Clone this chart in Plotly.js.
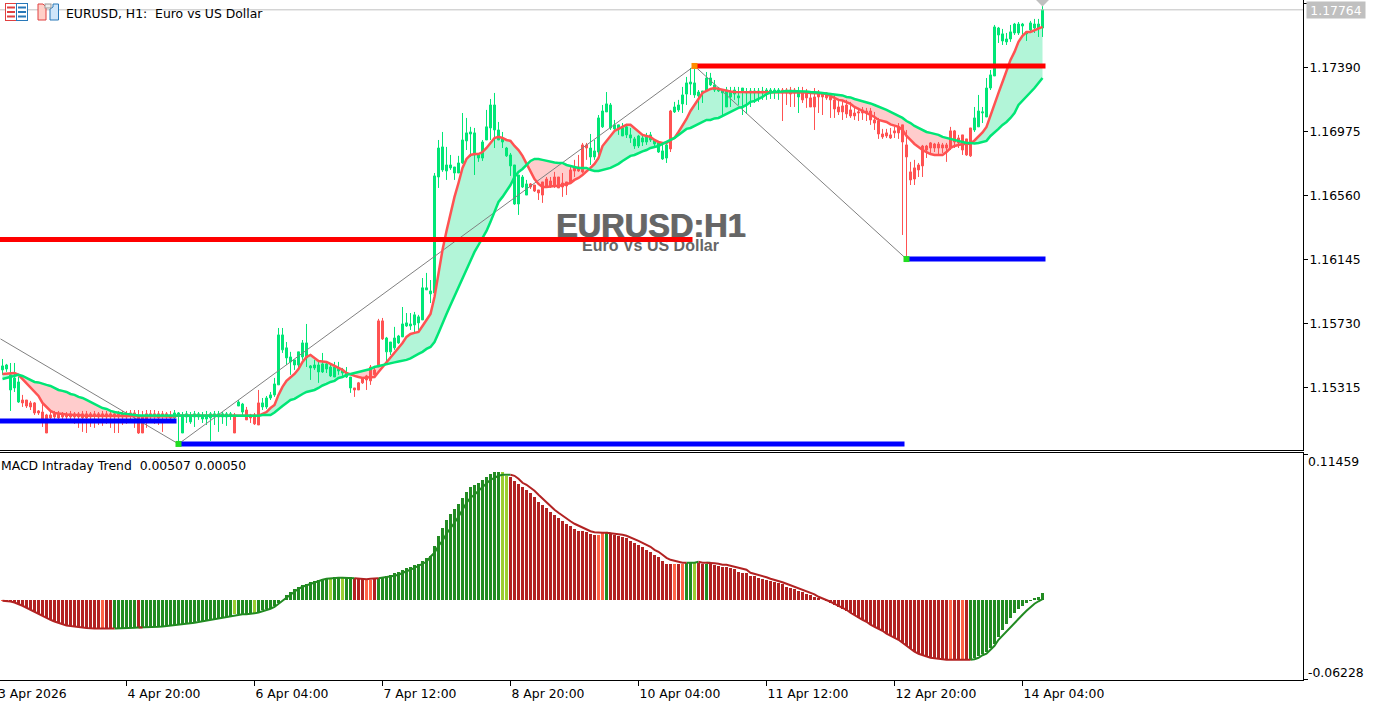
<!DOCTYPE html>
<html>
<head>
<meta charset="utf-8">
<script src="https://cdn.plot.ly/plotly-3.0.1.min.js"></script>
<style>html,body{margin:0;padding:0;background:#fff}#chart{width:1378px;height:705px}</style>
</head>
<body>
<div id="chart"></div>
<script>
const priceHigh = [
1.15500,1.15468,1.15474,1.15474,1.15383,1.15267,1.15234,1.15228,1.15221,1.15169,
1.15221,1.15144,1.15156,1.15163,1.15163,1.15156,1.15156,1.15163,1.15156,1.15156,
1.15163,1.15163,1.15156,1.15163,1.15156,1.15163,1.15163,1.15169,1.15163,1.15163,
1.15163,1.15163,1.15169,1.15169,1.15169,1.15163,1.15169,1.15169,1.15169,1.15163,
1.15163,1.15156,1.15163,1.15169,1.15156,1.15156,1.15163,1.15156,1.15163,1.15156,
1.15156,1.15163,1.15156,1.15163,1.15163,1.15156,1.15156,1.15156,1.15150,1.15234,
1.15215,1.15189,1.15144,1.15150,1.15299,1.15247,1.15260,1.15286,1.15377,1.15701,
1.15701,1.15610,1.15546,1.15494,1.15546,1.15623,1.15727,1.15461,1.15494,1.15487,
1.15539,1.15481,1.15468,1.15481,1.15481,1.15442,1.15448,1.15383,1.15312,1.15351,
1.15383,1.15397,1.15461,1.15455,1.15760,1.15766,1.15643,1.15610,1.15708,1.15656,
1.15837,1.15798,1.15798,1.15805,1.15786,1.16025,1.16058,1.16012,1.16706,1.16920,
1.16972,1.16875,1.16823,1.16745,1.16817,1.17095,1.17063,1.17005,1.16998,1.16823,
1.16920,1.17115,1.17186,1.17225,1.17037,1.16972,1.16875,1.16836,1.16758,1.16693,
1.16693,1.16661,1.16641,1.16628,1.16596,1.16648,1.16680,1.16680,1.16713,1.16680,
1.16706,1.16648,1.16745,1.16791,1.16823,1.16901,1.16901,1.16959,1.16920,1.17082,
1.17147,1.17231,1.17160,1.17050,1.17018,1.17030,1.17024,1.16998,1.16940,1.16953,
1.16953,1.16966,1.16972,1.16927,1.16907,1.16888,1.16901,1.17115,1.17167,1.17180,
1.17264,1.17329,1.17387,1.17394,1.17244,1.17238,1.17361,1.17355,1.17309,1.17264,
1.17244,1.17264,1.17264,1.17264,1.17264,1.17257,1.17257,1.17257,1.17257,1.17257,
1.17264,1.17257,1.17257,1.17257,1.17257,1.17257,1.17257,1.17264,1.17257,1.17264,
1.17264,1.17251,1.17231,1.17257,1.17244,1.17231,1.17231,1.17225,1.17212,1.17180,
1.17180,1.17180,1.17167,1.17128,1.17128,1.17134,1.17128,1.17128,1.17102,1.17063,
1.16992,1.16992,1.16998,1.17005,1.17030,1.17018,1.16985,1.16778,1.16791,1.16771,
1.16888,1.16888,1.16907,1.16901,1.16907,1.16901,1.16901,1.17005,1.16985,1.16953,
1.16953,1.16927,1.16998,1.17134,1.17212,1.17134,1.17322,1.17374,1.17666,1.17653,
1.17640,1.17614,1.17666,1.17679,1.17685,1.17679,1.17621,1.17692,1.17705,1.17705,
1.17809];
const bodyTop = [
1.15455,1.15461,1.15397,1.15377,1.15351,1.15234,1.15234,1.15215,1.15215,1.15163,
1.15156,1.15137,1.15137,1.15144,1.15144,1.15144,1.15137,1.15144,1.15144,1.15144,
1.15144,1.15144,1.15144,1.15144,1.15144,1.15144,1.15144,1.15144,1.15144,1.15144,
1.15144,1.15144,1.15150,1.15150,1.15137,1.15131,1.15144,1.15144,1.15144,1.15144,
1.15144,1.15144,1.15137,1.15150,1.15150,1.15137,1.15144,1.15131,1.15144,1.15144,
1.15131,1.15137,1.15144,1.15144,1.15144,1.15144,1.15144,1.15144,1.15137,1.15221,
1.15208,1.15169,1.15137,1.15137,1.15215,1.15215,1.15247,1.15267,1.15338,1.15656,
1.15656,1.15572,1.15513,1.15494,1.15546,1.15604,1.15604,1.15455,1.15461,1.15461,
1.15468,1.15468,1.15448,1.15448,1.15442,1.15429,1.15409,1.15383,1.15312,1.15345,
1.15377,1.15390,1.15448,1.15429,1.15747,1.15747,1.15636,1.15610,1.15636,1.15649,
1.15727,1.15734,1.15727,1.15786,1.15773,1.15961,1.15961,1.15941,1.16687,1.16868,
1.16875,1.16758,1.16758,1.16745,1.16771,1.16920,1.16966,1.16972,1.16966,1.16823,
1.16907,1.17005,1.17147,1.17147,1.16985,1.16933,1.16868,1.16823,1.16758,1.16693,
1.16680,1.16635,1.16635,1.16628,1.16596,1.16648,1.16667,1.16654,1.16680,1.16680,
1.16641,1.16648,1.16726,1.16745,1.16745,1.16888,1.16888,1.16868,1.16849,1.17063,
1.17108,1.17154,1.17147,1.17018,1.17018,1.16998,1.17005,1.16953,1.16927,1.16946,
1.16933,1.16940,1.16953,1.16920,1.16901,1.16849,1.16888,1.17108,1.17134,1.17147,
1.17212,1.17290,1.17296,1.17290,1.17231,1.17238,1.17322,1.17322,1.17277,1.17257,
1.17238,1.17244,1.17231,1.17244,1.17206,1.17257,1.17231,1.17238,1.17238,1.17238,
1.17238,1.17244,1.17244,1.17244,1.17244,1.17244,1.17244,1.17244,1.17244,1.17225,
1.17231,1.17225,1.17193,1.17199,1.17231,1.17225,1.17225,1.17199,1.17180,1.17134,
1.17141,1.17147,1.17115,1.17095,1.17102,1.17115,1.17108,1.17108,1.17050,1.17043,
1.16959,1.16966,1.16953,1.16979,1.17005,1.17018,1.16888,1.16713,1.16739,1.16758,
1.16881,1.16881,1.16901,1.16894,1.16894,1.16888,1.16888,1.16979,1.16979,1.16933,
1.16953,1.16927,1.16998,1.17063,1.17108,1.17102,1.17257,1.17342,1.17653,1.17646,
1.17608,1.17575,1.17621,1.17672,1.17672,1.17672,1.17621,1.17679,1.17672,1.17672,
1.17764];
const bodyBottom = [
1.15429,1.15435,1.15299,1.15312,1.15221,1.15215,1.15195,1.15189,1.15150,1.15150,
1.15111,1.15020,1.15118,1.15124,1.15118,1.15124,1.15124,1.15124,1.15124,1.15124,
1.15118,1.15118,1.15124,1.15131,1.15124,1.15124,1.15124,1.15124,1.15124,1.15124,
1.15124,1.15124,1.15131,1.15124,1.15020,1.15020,1.15105,1.15124,1.15124,1.15118,
1.15131,1.15124,1.15118,1.15118,1.15131,1.15020,1.15124,1.15092,1.15124,1.15124,
1.15111,1.15111,1.15118,1.15124,1.15124,1.15124,1.15124,1.15131,1.15020,1.15195,
1.15156,1.15105,1.15118,1.15079,1.15072,1.15189,1.15189,1.15247,1.15267,1.15332,
1.15559,1.15507,1.15481,1.15461,1.15461,1.15513,1.15507,1.15442,1.15442,1.15416,
1.15416,1.15435,1.15390,1.15383,1.15422,1.15409,1.15383,1.15312,1.15299,1.15299,
1.15345,1.15364,1.15358,1.15397,1.15448,1.15630,1.15546,1.15546,1.15572,1.15604,
1.15643,1.15714,1.15714,1.15721,1.15734,1.15753,1.15948,1.15922,1.15928,1.16680,
1.16726,1.16719,1.16739,1.16706,1.16706,1.16771,1.16914,1.16959,1.16823,1.16803,
1.16803,1.16920,1.16998,1.16985,1.16920,1.16907,1.16817,1.16752,1.16505,1.16505,
1.16615,1.16563,1.16615,1.16589,1.16577,1.16563,1.16615,1.16622,1.16628,1.16609,
1.16615,1.16622,1.16648,1.16719,1.16719,1.16713,1.16868,1.16810,1.16810,1.16842,
1.17005,1.17102,1.16998,1.16992,1.16992,1.16946,1.16953,1.16933,1.16881,1.16881,
1.16907,1.16907,1.16920,1.16894,1.16842,1.16797,1.16803,1.16862,1.17102,1.17115,
1.17154,1.17218,1.17283,1.17212,1.17206,1.17225,1.17244,1.17277,1.17244,1.17238,
1.17225,1.17134,1.17199,1.17218,1.17193,1.17231,1.17225,1.17225,1.17225,1.17225,
1.17225,1.17231,1.17231,1.17231,1.17231,1.17225,1.17225,1.17218,1.17225,1.17199,
1.17180,1.17193,1.17134,1.17134,1.17199,1.17199,1.17193,1.17180,1.17121,1.17102,
1.17102,1.17089,1.17076,1.17076,1.17095,1.17095,1.17095,1.17050,1.17030,1.16959,
1.16940,1.16946,1.16933,1.16966,1.16966,1.16907,1.16810,1.16661,1.16667,1.16726,
1.16752,1.16855,1.16868,1.16868,1.16868,1.16868,1.16868,1.16868,1.16907,1.16901,
1.16855,1.16823,1.16817,1.16985,1.17005,1.17095,1.17069,1.17257,1.17335,1.17601,
1.17562,1.17556,1.17575,1.17614,1.17614,1.17659,1.17608,1.17633,1.17646,1.17646,
1.17646];
const priceLow = [
1.15397,1.15416,1.15163,1.15286,1.15215,1.15189,1.15182,1.15169,1.15137,1.15137,
1.15059,1.15020,1.15105,1.15098,1.15105,1.15092,1.15098,1.15098,1.15079,1.15053,
1.15027,1.15020,1.15059,1.15053,1.15072,1.15066,1.15079,1.15053,1.15020,1.15020,
1.15072,1.15079,1.15085,1.15053,1.15014,1.15020,1.15053,1.15085,1.15079,1.15072,
1.15027,1.15092,1.15092,1.15105,1.14943,1.15020,1.15085,1.15079,1.15059,1.15105,
1.15085,1.15072,1.14969,1.15072,1.15027,1.15079,1.15066,1.15105,1.15020,1.15195,
1.15124,1.15105,1.15085,1.15072,1.15072,1.15169,1.15176,1.15234,1.15254,1.15332,
1.15539,1.15461,1.15397,1.15429,1.15429,1.15494,1.15448,1.15364,1.15429,1.15345,
1.15409,1.15409,1.15383,1.15383,1.15397,1.15390,1.15377,1.15280,1.15254,1.15299,
1.15338,1.15299,1.15332,1.15383,1.15448,1.15623,1.15481,1.15526,1.15559,1.15598,
1.15643,1.15708,1.15688,1.15669,1.15688,1.15753,1.15948,1.15863,1.15928,1.16609,
1.16713,1.16661,1.16726,1.16661,1.16706,1.16765,1.16855,1.16810,1.16693,1.16778,
1.16784,1.16920,1.16920,1.16868,1.16920,1.16868,1.16810,1.16687,1.16499,1.16434,
1.16609,1.16563,1.16602,1.16583,1.16531,1.16512,1.16609,1.16609,1.16609,1.16609,
1.16551,1.16563,1.16635,1.16680,1.16713,1.16706,1.16791,1.16758,1.16791,1.16791,
1.16998,1.17102,1.16985,1.16985,1.16953,1.16946,1.16933,1.16901,1.16862,1.16868,
1.16881,1.16888,1.16907,1.16881,1.16836,1.16791,1.16771,1.16842,1.17095,1.17102,
1.17095,1.17147,1.17212,1.17193,1.17115,1.17160,1.17238,1.17270,1.17231,1.17231,
1.17069,1.17134,1.17134,1.17180,1.17147,1.17082,1.17089,1.17134,1.17160,1.17167,
1.17180,1.17180,1.17186,1.17186,1.17180,1.17043,1.17147,1.17134,1.17134,1.17095,
1.17160,1.17128,1.17134,1.16985,1.17095,1.17082,1.17180,1.17063,1.17063,1.17082,
1.17050,1.17063,1.17063,1.17050,1.17043,1.17050,1.17043,1.17018,1.16985,1.16927,
1.16927,1.16933,1.16927,1.16933,1.16927,1.16304,1.16155,1.16628,1.16628,1.16680,
1.16680,1.16803,1.16829,1.16842,1.16829,1.16836,1.16778,1.16855,1.16868,1.16868,
1.16823,1.16817,1.16810,1.16972,1.17005,1.17030,1.17069,1.17244,1.17335,1.17549,
1.17536,1.17536,1.17556,1.17601,1.17601,1.17588,1.17562,1.17614,1.17614,1.17588,
1.17588];
const fastAverage = [
1.15403,1.15406,1.15409,1.15409,1.15397,1.15370,1.15338,1.15312,1.15286,1.15260,
1.15215,1.15189,1.15163,1.15150,1.15147,1.15144,1.15137,1.15137,1.15137,1.15137,
1.15134,1.15131,1.15131,1.15131,1.15131,1.15131,1.15131,1.15131,1.15131,1.15131,
1.15131,1.15131,1.15131,1.15131,1.15131,1.15131,1.15127,1.15127,1.15127,1.15127,
1.15127,1.15127,1.15127,1.15127,1.15134,1.15134,1.15134,1.15134,1.15134,1.15134,
1.15134,1.15134,1.15134,1.15134,1.15134,1.15134,1.15134,1.15134,1.15131,1.15131,
1.15131,1.15131,1.15131,1.15131,1.15131,1.15144,1.15156,1.15182,1.15202,1.15267,
1.15319,1.15358,1.15383,1.15403,1.15435,1.15481,1.15513,1.15526,1.15507,1.15487,
1.15484,1.15481,1.15468,1.15455,1.15442,1.15429,1.15409,1.15397,1.15390,1.15383,
1.15377,1.15380,1.15383,1.15383,1.15416,1.15448,1.15474,1.15507,1.15539,1.15572,
1.15604,1.15643,1.15662,1.15669,1.15675,1.15714,1.15753,1.15792,1.15902,1.16058,
1.16207,1.16330,1.16447,1.16551,1.16641,1.16739,1.16797,1.16823,1.16829,1.16829,
1.16842,1.16868,1.16901,1.16933,1.16940,1.16933,1.16920,1.16914,1.16881,1.16855,
1.16817,1.16765,1.16713,1.16667,1.16635,1.16615,1.16615,1.16619,1.16622,1.16622,
1.16628,1.16632,1.16641,1.16661,1.16674,1.16693,1.16713,1.16739,1.16765,1.16803,
1.16881,1.16914,1.16946,1.16979,1.16992,1.17005,1.17018,1.17018,1.16998,1.16979,
1.16953,1.16946,1.16940,1.16920,1.16907,1.16901,1.16901,1.16920,1.16933,1.16972,
1.17011,1.17056,1.17108,1.17147,1.17193,1.17225,1.17238,1.17251,1.17257,1.17251,
1.17244,1.17238,1.17235,1.17231,1.17231,1.17228,1.17228,1.17228,1.17228,1.17228,
1.17228,1.17228,1.17231,1.17231,1.17231,1.17231,1.17231,1.17231,1.17228,1.17228,
1.17228,1.17228,1.17225,1.17225,1.17222,1.17222,1.17218,1.17206,1.17189,1.17180,
1.17176,1.17167,1.17154,1.17134,1.17121,1.17108,1.17095,1.17082,1.17069,1.17050,
1.17043,1.17037,1.17021,1.17011,1.17005,1.16985,1.16946,1.16920,1.16894,1.16875,
1.16855,1.16842,1.16829,1.16823,1.16823,1.16823,1.16842,1.16868,1.16881,1.16888,
1.16894,1.16894,1.16897,1.16917,1.16943,1.16969,1.17005,1.17082,1.17160,1.17225,
1.17296,1.17374,1.17439,1.17491,1.17556,1.17595,1.17621,1.17621,1.17633,1.17646,
1.17653];
const slowAverage = [
1.15370,1.15377,1.15383,1.15390,1.15397,1.15390,1.15377,1.15364,1.15351,1.15348,
1.15338,1.15332,1.15325,1.15312,1.15299,1.15293,1.15286,1.15273,1.15267,1.15254,
1.15247,1.15234,1.15221,1.15208,1.15195,1.15182,1.15176,1.15163,1.15156,1.15150,
1.15147,1.15144,1.15140,1.15137,1.15134,1.15134,1.15134,1.15134,1.15134,1.15134,
1.15134,1.15134,1.15134,1.15134,1.15134,1.15134,1.15134,1.15134,1.15134,1.15134,
1.15134,1.15134,1.15134,1.15134,1.15134,1.15134,1.15134,1.15134,1.15134,1.15131,
1.15131,1.15131,1.15131,1.15131,1.15131,1.15137,1.15137,1.15137,1.15153,1.15176,
1.15195,1.15215,1.15234,1.15241,1.15260,1.15273,1.15286,1.15293,1.15299,1.15312,
1.15328,1.15338,1.15351,1.15358,1.15377,1.15383,1.15397,1.15403,1.15409,1.15416,
1.15422,1.15429,1.15435,1.15448,1.15455,1.15461,1.15468,1.15471,1.15478,1.15484,
1.15487,1.15494,1.15504,1.15520,1.15533,1.15546,1.15565,1.15578,1.15610,1.15669,
1.15734,1.15792,1.15850,1.15909,1.15961,1.16019,1.16077,1.16136,1.16194,1.16239,
1.16285,1.16330,1.16389,1.16453,1.16518,1.16551,1.16590,1.16628,1.16680,1.16713,
1.16732,1.16758,1.16784,1.16797,1.16797,1.16791,1.16784,1.16778,1.16774,1.16771,
1.16771,1.16758,1.16752,1.16742,1.16739,1.16739,1.16739,1.16726,1.16719,1.16719,
1.16726,1.16732,1.16739,1.16752,1.16765,1.16784,1.16803,1.16817,1.16823,1.16836,
1.16846,1.16855,1.16868,1.16875,1.16881,1.16894,1.16907,1.16920,1.16933,1.16953,
1.16972,1.16992,1.16998,1.17011,1.17024,1.17037,1.17050,1.17050,1.17060,1.17063,
1.17076,1.17089,1.17102,1.17115,1.17128,1.17134,1.17147,1.17167,1.17173,1.17186,
1.17199,1.17218,1.17228,1.17231,1.17235,1.17235,1.17238,1.17238,1.17238,1.17238,
1.17238,1.17235,1.17231,1.17231,1.17228,1.17225,1.17222,1.17218,1.17215,1.17212,
1.17209,1.17199,1.17196,1.17186,1.17180,1.17173,1.17167,1.17157,1.17147,1.17137,
1.17128,1.17115,1.17102,1.17089,1.17076,1.17063,1.17043,1.17030,1.17011,1.16998,
1.16985,1.16972,1.16966,1.16959,1.16953,1.16940,1.16933,1.16927,1.16920,1.16914,
1.16907,1.16901,1.16901,1.16897,1.16901,1.16907,1.16914,1.16946,1.16966,1.16992,
1.17018,1.17037,1.17063,1.17095,1.17147,1.17173,1.17199,1.17225,1.17257,1.17290,
1.17322];
const macdHistogram = [
-0.00079,-0.00102,-0.00134,-0.00212,-0.00314,-0.00472,-0.00629,-0.00786,-0.00943,-0.01124,
-0.01313,-0.01438,-0.01572,-0.01706,-0.01831,-0.01910,-0.02020,-0.02067,-0.02122,-0.02146,
-0.02177,-0.02224,-0.02256,-0.02256,-0.02256,-0.02256,-0.02256,-0.02256,-0.02256,-0.02256,
-0.02256,-0.02256,-0.02224,-0.02201,-0.02146,-0.02177,-0.02146,-0.02146,-0.02122,-0.02099,
-0.02067,-0.02044,-0.02020,-0.01989,-0.01965,-0.01910,-0.01863,-0.01808,-0.01753,-0.01706,
-0.01651,-0.01596,-0.01548,-0.01493,-0.01438,-0.01391,-0.01336,-0.01258,-0.01124,-0.01124,
-0.01124,-0.01100,-0.01077,-0.01022,-0.00943,-0.00786,-0.00731,-0.00629,-0.00472,-0.00259,
-0.00055,0.00393,0.00629,0.00865,0.01022,0.01179,0.01258,0.01376,0.01493,0.01572,
0.01651,0.01690,0.01729,0.01769,0.01769,0.01808,0.01808,0.01808,0.01729,0.01651,
0.01651,0.01572,0.01572,0.01611,0.01690,0.01769,0.01886,0.01965,0.02083,0.02201,
0.02358,0.02515,0.02594,0.02751,0.02830,0.03065,0.03301,0.03458,0.04244,0.05030,
0.05659,0.06288,0.06760,0.07153,0.07546,0.08017,0.08489,0.08882,0.09039,0.09196,
0.09432,0.09668,0.09904,0.10061,0.10061,0.10061,0.09746,0.09668,0.09353,0.09118,
0.08882,0.08646,0.08410,0.08096,0.07703,0.07467,0.07231,0.06917,0.06681,0.06445,
0.06209,0.05974,0.05816,0.05581,0.05423,0.05423,0.05345,0.05188,0.05109,0.05109,
0.05266,0.05266,0.05188,0.05109,0.05030,0.04952,0.04873,0.04637,0.04480,0.04323,
0.04166,0.03930,0.03773,0.03537,0.03380,0.03065,0.02830,0.02830,0.02830,0.02830,
0.02830,0.02908,0.02908,0.02908,0.02908,0.02830,0.02830,0.02830,0.02751,0.02672,
0.02594,0.02594,0.02515,0.02437,0.02201,0.02122,0.02122,0.01886,0.01847,0.01729,
0.01651,0.01572,0.01493,0.01415,0.01336,0.01258,0.01022,0.00943,0.00825,0.00707,
0.00590,0.00472,0.00354,0.00236,0.00118,0.00000,-0.00079,-0.00236,-0.00393,-0.00550,
-0.00707,-0.00865,-0.01022,-0.01218,-0.01415,-0.01572,-0.01729,-0.01965,-0.02122,-0.02279,
-0.02437,-0.02672,-0.02830,-0.02987,-0.03144,-0.03380,-0.03616,-0.03851,-0.04087,-0.04244,
-0.04362,-0.04480,-0.04559,-0.04598,-0.04637,-0.04716,-0.04716,-0.04716,-0.04716,-0.04716,
-0.04716,-0.04716,-0.04716,-0.04559,-0.04402,-0.04244,-0.04087,-0.03773,-0.03458,-0.02908,
-0.02358,-0.01886,-0.01415,-0.01022,-0.00707,-0.00472,-0.00236,-0.00079,0.00157,0.00236,
0.00507];
const macdSignal = [
-0.00079,-0.00102,-0.00134,-0.00212,-0.00314,-0.00472,-0.00629,-0.00786,-0.00943,-0.01124,
-0.01313,-0.01438,-0.01572,-0.01706,-0.01831,-0.01910,-0.02020,-0.02067,-0.02122,-0.02146,
-0.02177,-0.02224,-0.02256,-0.02256,-0.02256,-0.02256,-0.02256,-0.02256,-0.02256,-0.02256,
-0.02256,-0.02256,-0.02224,-0.02201,-0.02177,-0.02177,-0.02170,-0.02170,-0.02146,-0.02122,
-0.02099,-0.02067,-0.02044,-0.02020,-0.01989,-0.01949,-0.01910,-0.01855,-0.01808,-0.01753,
-0.01698,-0.01643,-0.01588,-0.01533,-0.01477,-0.01422,-0.01375,-0.01320,-0.01218,-0.01179,
-0.01140,-0.01132,-0.01116,-0.01069,-0.00998,-0.00904,-0.00825,-0.00707,-0.00566,-0.00354,
-0.00079,0.00157,0.00393,0.00629,0.00865,0.01022,0.01140,0.01258,0.01376,0.01493,
0.01572,0.01651,0.01690,0.01729,0.01729,0.01729,0.01729,0.01729,0.01690,0.01651,
0.01651,0.01611,0.01651,0.01651,0.01690,0.01729,0.01769,0.01808,0.01886,0.01965,
0.02122,0.02240,0.02358,0.02515,0.02672,0.02830,0.02987,0.03380,0.03694,0.04244,
0.04637,0.05188,0.05581,0.06052,0.06524,0.07074,0.07624,0.08017,0.08253,0.08567,
0.08882,0.09118,0.09432,0.09589,0.09746,0.09825,0.09825,0.09825,0.09746,0.09511,
0.09196,0.09039,0.08803,0.08567,0.08253,0.07939,0.07624,0.07388,0.07074,0.06838,
0.06602,0.06367,0.06170,0.05974,0.05816,0.05659,0.05502,0.05384,0.05306,0.05266,
0.05266,0.05266,0.05227,0.05188,0.05188,0.05109,0.05030,0.04913,0.04795,0.04637,
0.04480,0.04323,0.04166,0.03930,0.03773,0.03537,0.03301,0.03144,0.03065,0.02987,
0.02908,0.02908,0.02908,0.02908,0.02987,0.02908,0.02908,0.02908,0.02869,0.02830,
0.02751,0.02751,0.02672,0.02594,0.02515,0.02476,0.02358,0.02122,0.02044,0.01965,
0.01886,0.01769,0.01651,0.01572,0.01493,0.01376,0.01258,0.01140,0.01022,0.00904,
0.00786,0.00668,0.00550,0.00432,0.00236,0.00118,-0.00039,-0.00157,-0.00314,-0.00472,
-0.00629,-0.00786,-0.01022,-0.01218,-0.01415,-0.01572,-0.01729,-0.01965,-0.02122,-0.02279,
-0.02437,-0.02672,-0.02830,-0.02987,-0.03144,-0.03380,-0.03616,-0.03851,-0.04087,-0.04244,
-0.04362,-0.04480,-0.04559,-0.04598,-0.04637,-0.04716,-0.04716,-0.04716,-0.04716,-0.04716,
-0.04716,-0.04716,-0.04716,-0.04677,-0.04559,-0.04362,-0.04244,-0.03969,-0.03616,-0.03144,
-0.02830,-0.02515,-0.02201,-0.01886,-0.01572,-0.01179,-0.00865,-0.00550,-0.00314,-0.00118,
0.00050];
// runs of bars: [first, last, state]
const candleStateRuns = [[0,4,'up'],[5,42,'down'],[43,57,'up'],[58,58,'down'],[59,60,'up'],[61,64,'down'],[65,87,'up'],[88,95,'down'],[96,131,'up'],[132,146,'down'],[147,166,'up'],[167,167,'down'],[168,194,'up'],[195,198,'down'],[199,199,'up'],[200,242,'down'],[243,260,'up']];
const histStateRuns = [[0,0,'weakDown'],[1,24,'down'],[25,25,'weakDown'],[26,27,'down'],[28,33,'up'],[34,34,'down'],[35,57,'up'],[58,58,'weakUp'],[59,62,'up'],[63,63,'weakUp'],[64,81,'up'],[82,82,'weakUp'],[83,84,'up'],[85,85,'weakUp'],[86,87,'up'],[88,90,'down'],[91,92,'weakDown'],[93,93,'down'],[94,124,'up'],[125,126,'weakUp'],[127,148,'down'],[149,150,'weakDown'],[151,151,'up'],[152,167,'down'],[168,168,'weakDown'],[169,169,'down'],[170,170,'weakDown'],[171,172,'up'],[173,173,'weakUp'],[174,175,'down'],[176,176,'up'],[177,236,'down'],[237,237,'weakDown'],[238,239,'down'],[240,240,'weakDown'],[241,241,'down'],[242,260,'up']];
const zigzagBar = [-0.5,44,173,226];
const zigzagPrice = [1.15630,1.14949,1.17400,1.16148];
const resistanceLevels = [{from:-0.625,to:172.5,price:1.16275},{from:173,to:260.75,price:1.17400}];
const supportLevels = [{from:-0.625,to:43.5,price:1.15098},{from:44.5,to:225.5,price:1.14949},{from:226.5,to:260.75,price:1.16148}];
const pivotBars = [44,173,226];
const pivotPrices = [1.14949,1.17400,1.16148];
const pivotColors = ['#22dd22','#ff8c00','#22dd22'];
const lastPrice = 1.17764;
const priceTicks = [1.15315,1.15730,1.16145,1.16560,1.16975,1.17390,1.17805];
const macdTicks = [-0.06228,0.11459];
const timeTickBars = [31,63,95,127,159,191,223,255];
const timeTickLabels = ['4 Apr 20:00','6 Apr 04:00','7 Apr 12:00','8 Apr 20:00','10 Apr 04:00','11 Apr 12:00','12 Apr 20:00','14 Apr 04:00'];

const W=1378,H=705,PW=1303,PH=680;
const px=x=>x/PW, py=y=>1-y/PH;
const FONT='"DejaVu Sans", sans-serif';
const GREEN='#00E676',RED='#FF5252';
const HIST={up:'#228B22',weakUp:'#9ACD32',down:'#B22222',weakDown:'#FF6347'};
const bars=priceHigh.map((_,i)=>i);
function expand(runs){const a=[];runs.forEach(r=>{for(let i=r[0];i<=r[1];i++)a[i]=r[2];});return a;}
const candleState=expand(candleStateRuns), histState=expand(histStateRuns);
const XR=[-0.625,325.125];
const traces=[];
// filled ribbon between the averages, as shapes under all traces
const ribbonShapes=[];
(function(){
  let curr=null;
  const flush=()=>{if(!curr||curr.x.length<2)return;
    const xs=curr.x.concat(curr.x.slice().reverse()), ys=curr.f.concat(curr.s.slice().reverse());
    ribbonShapes.push({type:'path',layer:'below',xref:'x',yref:'y',line:{width:0},fillcolor:curr.up?'#B2F5D8':'#FFCCCC',path:'M'+xs.map((v,k)=>v+','+ys[k]).join('L')+'Z'});};
  for(let i=0;i<bars.length;i++){
    const d=fastAverage[i]-slowAverage[i], up=d>=0;
    if(!curr){curr={up,x:[],f:[],s:[]};}
    else if(up!==curr.up){
      const pd=fastAverage[i-1]-slowAverage[i-1], t=pd/(pd-d);
      const cx=i-1+t, cy=fastAverage[i-1]+t*(fastAverage[i]-fastAverage[i-1]);
      curr.x.push(cx);curr.f.push(cy);curr.s.push(cy);flush();
      curr={up,x:[cx],f:[cy],s:[cy]};
    }
    curr.x.push(i);curr.f.push(fastAverage[i]);curr.s.push(slowAverage[i]);
  }
  flush();
})();
// last price line
traces.push({type:'scatter',mode:'lines',x:XR,y:[lastPrice,lastPrice],line:{color:'#c0c0c0',width:1},xaxis:'x',yaxis:'y',hoverinfo:'skip'});
// watermark under the level lines
traces.push({type:'scatter',mode:'text',x:[162],y:[1.16345],text:['EURUSD:H1'],textposition:'middle center',textfont:{family:'"Liberation Sans", Arial, sans-serif',size:32.5,color:'#666666',weight:700,shadow:'1px 0 0 #707070'},xaxis:'x',yaxis:'y',hoverinfo:'skip'});
traces.push({type:'scatter',mode:'text',x:[162],y:[1.16228],text:['Euro Vs US Dollar'],textposition:'middle center',textfont:{family:'"Liberation Sans", Arial, sans-serif',size:16,color:'#666666',weight:700},xaxis:'x',yaxis:'y',hoverinfo:'skip'});
// candles
['up','down'].forEach(s=>{
  const idx=bars.filter(i=>candleState[i]===s), c=s==='up'?GREEN:RED;
  traces.push({type:'candlestick',x:idx,open:idx.map(i=>bodyBottom[i]),close:idx.map(i=>bodyTop[i]),high:idx.map(i=>priceHigh[i]),low:idx.map(i=>priceLow[i]),
    increasing:{line:{color:c,width:1},fillcolor:c},decreasing:{line:{color:c,width:1},fillcolor:c},whiskerwidth:0,xaxis:'x',yaxis:'y',hoverinfo:'skip',showlegend:false});
});
// zigzag
traces.push({type:'scatter',mode:'lines',x:zigzagBar,y:zigzagPrice,line:{color:'#808080',width:1},xaxis:'x',yaxis:'y',hoverinfo:'skip'});
// averages
traces.push({type:'scatter',mode:'lines',x:bars,y:fastAverage,line:{color:RED,width:2.5},xaxis:'x',yaxis:'y',hoverinfo:'skip'});
traces.push({type:'scatter',mode:'lines',x:bars,y:slowAverage,line:{color:GREEN,width:2.5},xaxis:'x',yaxis:'y',hoverinfo:'skip'});
// levels
resistanceLevels.forEach(l=>traces.push({type:'scatter',mode:'lines',x:[l.from,l.to],y:[l.price,l.price],line:{color:'#ff0000',width:5},xaxis:'x',yaxis:'y',hoverinfo:'skip'}));
supportLevels.forEach(l=>traces.push({type:'scatter',mode:'lines',x:[l.from,l.to],y:[l.price,l.price],line:{color:'#0000ff',width:5},xaxis:'x',yaxis:'y',hoverinfo:'skip'}));
traces.push({type:'scatter',mode:'markers',x:pivotBars,y:pivotPrices,marker:{color:pivotColors,size:6,symbol:'square'},xaxis:'x',yaxis:'y',hoverinfo:'skip'});
traces.push({type:'scatter',mode:'markers',x:[260],y:[1.17828],marker:{color:'#c0c0c0',size:10,symbol:'diamond'},xaxis:'x',yaxis:'y',hoverinfo:'skip'});
// MACD pane
traces.push({type:'bar',x:bars,y:macdHistogram,width:0.75,marker:{color:histState.map(s=>HIST[s]),line:{width:0}},xaxis:'x2',yaxis:'y2',hoverinfo:'skip'});
['up','down'].forEach(fam=>{
  const isFam=i=>(fam==='up')===(histState[i]==='up'||histState[i]==='weakUp');
  const y=bars.map(i=>(isFam(i)||(i>0&&isFam(i-1)))?macdSignal[i]:null);
  traces.push({type:'scatter',mode:'lines',x:bars,y:y,connectgaps:false,line:{color:fam==='up'?HIST.up:HIST.down,width:2},xaxis:'x2',yaxis:'y2',hoverinfo:'skip'});
});
const iconTable='data:image/svg+xml;utf8,'+encodeURIComponent('<svg xmlns="http://www.w3.org/2000/svg" width="23" height="18"><rect x="0.5" y="0.5" width="11" height="17" fill="#fff" stroke="#e04040"/><rect x="11.5" y="0.5" width="11" height="17" fill="#fff" stroke="#2878b8"/><g stroke="#e04040" stroke-width="2"><path d="M2 4.5h8M2 9h8M2 13.5h8"/></g><g stroke="#2878b8" stroke-width="2"><path d="M13 4.5h8M13 9h8M13 13.5h8"/></g></svg>');
const iconChart='data:image/svg+xml;utf8,'+encodeURIComponent('<svg xmlns="http://www.w3.org/2000/svg" width="23" height="18"><path d="M1 1h5l3 3v13H1z" fill="#ffd0c8" stroke="#e04040"/><path d="M13 17V6l3-2V1h5.5v16z" fill="#cfe6fa" stroke="#2878b8"/><rect x="8" y="1" width="6" height="4" fill="#eee" stroke="#999"/></svg>');
const LABEL=12.4;
const ann=(text,x,y,opt)=>Object.assign({text,xref:'paper',yref:'paper',x:px(x),y:py(y),xanchor:'left',yanchor:'middle',showarrow:false,font:{family:FONT,size:LABEL,color:'#000'}},opt||{});
const layout={
  width:W,height:H,paper_bgcolor:'#fff',plot_bgcolor:'#fff',showlegend:false,dragmode:false,hovermode:false,
  margin:{l:0,r:W-PW,t:0,b:H-PH,pad:0},bargap:0,barmode:'overlay',boxgap:0.2857,
  shapes:ribbonShapes,
  xaxis:{domain:[0,1],range:XR,anchor:'y',showgrid:false,zeroline:false,showticklabels:false,ticks:'',showline:true,linecolor:'#000',linewidth:1,rangeslider:{visible:false},fixedrange:true},
  yaxis:{domain:[1-450/PH,1],range:[1.149097,1.178277],side:'right',anchor:'x',showgrid:false,zeroline:false,tickvals:priceTicks,tickformat:'.5f',ticks:'outside',ticklen:4,tickcolor:'#000',ticklabelstandoff:-1,tickfont:{family:FONT,size:LABEL,color:'#000'},showline:true,linecolor:'#000',linewidth:1,fixedrange:true},
  xaxis2:{domain:[0,1],range:XR,anchor:'y2',showgrid:false,zeroline:false,tickvals:timeTickBars,ticktext:timeTickLabels,ticks:'outside',ticklen:5,tickcolor:'#000',ticklabelposition:'outside right',ticklabelstandoff:2,tickangle:0,tickfont:{family:FONT,size:LABEL,color:'#000'},showline:true,mirror:true,linecolor:'#000',linewidth:1,fixedrange:true},
  yaxis2:{domain:[0,1-453/PH],range:[-0.06307,0.11538],side:'right',anchor:'x2',showgrid:false,zeroline:false,tickvals:macdTicks,ticktext:['',''],ticks:'outside',ticklen:4,tickcolor:'#000',showline:true,linecolor:'#000',linewidth:1,fixedrange:true},
  annotations:[
    ann('EURUSD, H1:\u00A0\u00A0Euro vs US Dollar',64,13),
    ann('MACD Intraday Trend\u00A0\u00A00.00507 0.00050',-1,465),
    ann('1.17764',1306,10,{bgcolor:'#c0c0c0',width:56,height:14,align:'center',borderpad:1,font:{family:FONT,size:LABEL,color:'#ffffff'}}),
    ann('0.11459',1306,461),
    ann('-0.06228',1306,672),
    ann('3 Apr 2026',-4,693)
  ],
  images:[
    {source:iconTable,xref:'paper',yref:'paper',x:px(5),y:py(3),sizex:23/PW,sizey:18/PH,xanchor:'left',yanchor:'top',sizing:'stretch',layer:'above'},
    {source:iconChart,xref:'paper',yref:'paper',x:px(37),y:py(3),sizex:23/PW,sizey:18/PH,xanchor:'left',yanchor:'top',sizing:'stretch',layer:'above'}
  ]
};
Plotly.newPlot('chart',traces,layout,{displayModeBar:false,staticPlot:true});
</script>
</body>
</html>
